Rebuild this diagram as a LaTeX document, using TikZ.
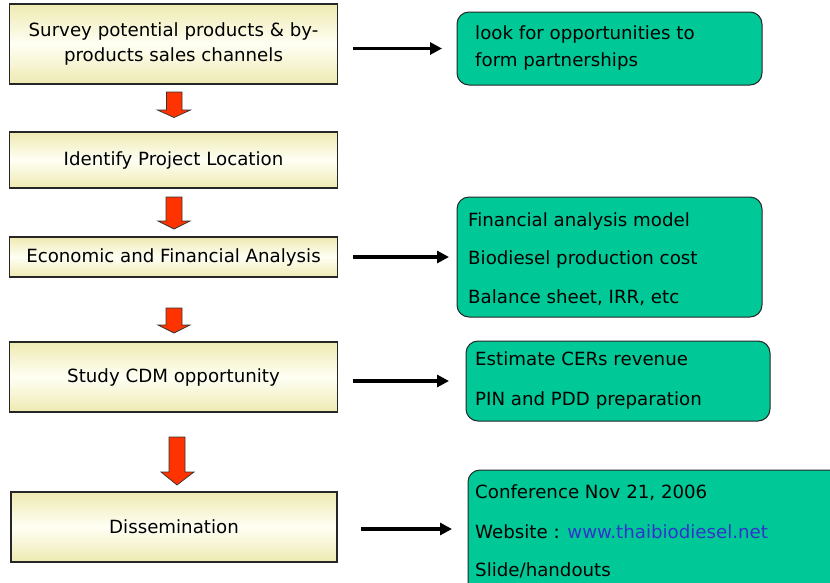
\documentclass[tikz,border=0pt]{standalone}
\usepackage{fontspec}
\setmainfont{DejaVu Sans}
\usetikzlibrary{arrows.meta}
\definecolor{ytop}{HTML}{EEEAB2}
\definecolor{ymid}{HTML}{FFFFF4}
\definecolor{gfill}{HTML}{00C896}
\definecolor{rfill}{HTML}{FF3300}
\definecolor{urlblue}{HTML}{3333CC}
\tikzset{
  ybox/.style={draw=black!85, line width=1.2pt, top color=ytop, bottom color=ytop, middle color=ymid,
    minimum width=328pt, inner sep=0pt, align=center, font=\fontsize{18.2}{25}\selectfont},
  gbox/.style={draw=black!85, line width=1pt, fill=gfill, rounded corners=12pt, inner sep=0pt},
  gtext/.style={anchor=west, inner sep=0pt, font=\fontsize{18.2}{26}\selectfont},
  blk/.style={line width=3.6pt, -{Triangle[length=12pt,width=12pt]}},
  redarrow/.style={fill=rfill, draw=black!80, line width=0.7pt, line join=miter}
}
\begin{document}
\begin{tikzpicture}[x=1pt,y=-1pt]
\useasboundingbox (0,0) rectangle (830,582);
\clip (0,0) rectangle (830,582);
% left boxes
\node[ybox, minimum height=80pt] (b1) at (173.5,44) {Survey potential products \& by-\\products sales channels};
\node[ybox, minimum height=56pt] (b2) at (173.5,160) {Identify Project Location};
\node[ybox, minimum height=40pt] (b3) at (173.5,257) {Economic and Financial Analysis};
\node[ybox, minimum height=70pt] (b4) at (173.5,377) {Study CDM opportunity};
\node[ybox, minimum height=70pt, minimum width=326pt] (b5) at (174,527) {Dissemination};
% red block arrows
\draw[redarrow] (166.5,92) -- (182,92) -- (182,110) -- (190.5,110) -- (174,117.5) -- (157.5,110) -- (166.5,110) -- cycle;
\draw[redarrow] (166,197) -- (182,197) -- (182,221) -- (190,221) -- (174,229) -- (158,221) -- (166,221) -- cycle;
\draw[redarrow] (166,308) -- (182,308) -- (182,325) -- (190,325) -- (174,333) -- (158,325) -- (166,325) -- cycle;
\draw[redarrow] (169,437) -- (185,437) -- (185,472) -- (194,472) -- (177,485) -- (161,472) -- (169,472) -- cycle;
% green boxes
\node[gbox, minimum width=305pt, minimum height=73pt] (g1) at (609.5,48.5) {};
\node[gtext] (t11) at (475,34) {look for opportunities to};
\node[gtext] (t12) at (475,61) {form partnerships};
\node[gbox, minimum width=305pt, minimum height=120pt] (g2) at (609.5,257) {};
\node[gtext] (t21) at (468,221) {Financial analysis model};
\node[gtext] (t22) at (468,259) {Biodiesel production cost};
\node[gtext] (t23) at (468,298) {Balance sheet, IRR, etc};
\node[gbox, minimum width=304pt, minimum height=80pt] (g3) at (618,381) {};
\node[gtext] (t31) at (475,359) {Estimate CERs revenue};
\node[gtext] (t32) at (475,400) {PIN and PDD preparation};
\node[gbox, minimum width=420pt, minimum height=160pt] (g4) at (678,550) {};
\node[gtext] (t41) at (475,493) {Conference Nov 21, 2006};
\node[gtext] (t42) at (475,532) {Website : \textcolor{urlblue}{www.thaibiodiesel.net}};
\node[gtext] (t43) at (475,570) {Slide/handouts};
% black arrows
\coordinate (s1) at (353,48.5);
\coordinate (e1) at (442,48.5);
\coordinate (s2) at (353,257);
\coordinate (e2) at (449,257);
\coordinate (s3) at (353,381);
\coordinate (e3) at (449,381);
\coordinate (s4) at (361,529);
\coordinate (e4) at (452,529);
\draw[blk] (s1) -- (e1);
\draw[blk] (s2) -- (e2);
\draw[blk] (s3) -- (e3);
\draw[blk] (s4) -- (e4);
\end{tikzpicture}
\end{document}
